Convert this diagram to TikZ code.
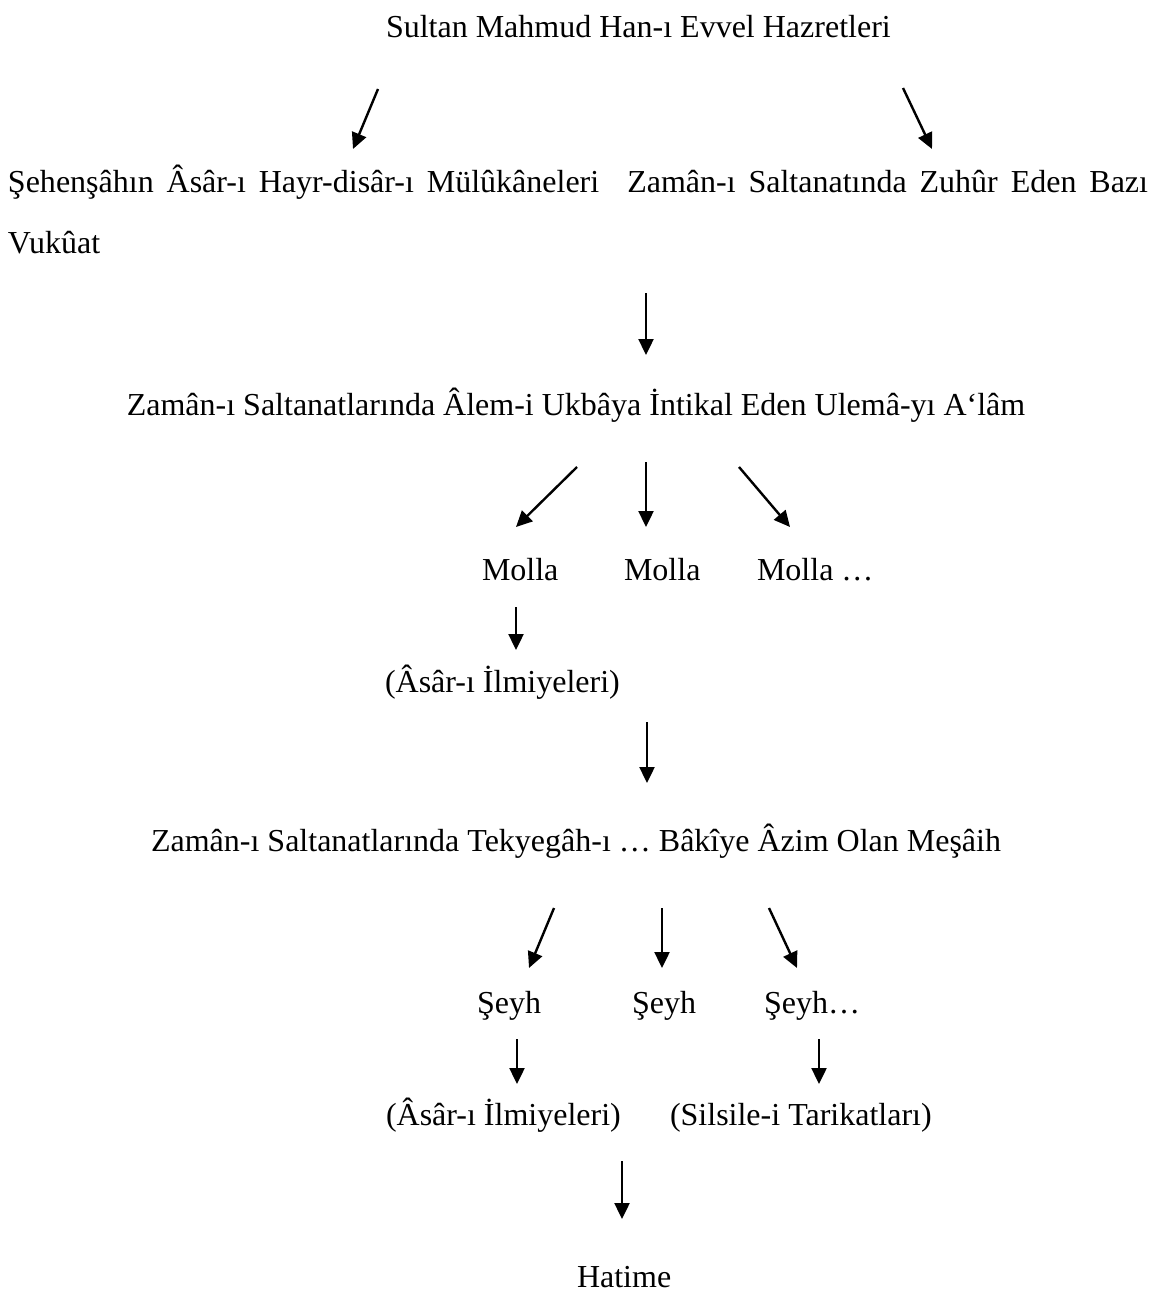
\documentclass[tikz,border=0pt]{standalone}
\usepackage{fontspec}
\setmainfont{Liberation Serif}
\usetikzlibrary{arrows.meta}

\begin{document}
\begin{tikzpicture}[x=1pt,y=-1pt,
  txt/.style={inner sep=0pt,outer sep=0pt,anchor=base west,
    font=\fontsize{32}{38}\selectfont},
  wide/.style={txt,execute at begin node={\spaceskip=12.9pt\relax}},
  arr/.style={line width=2.4pt,-{Triangle[length=16pt,width=15pt]}}]
\useasboundingbox (0,0) rectangle (1157,1297);

% heading and first branching
\node[txt] (sultan) at (386,38) {Sultan Mahmud Han-ı Evvel Hazretleri};
\node[wide] (asar) at (8,193) {Şehenşâhın Âsâr-ı Hayr-disâr-ı Mülûkâneleri};
\node[wide,anchor=base east] (vukuat) at (1148,193) {Zamân-ı Saltanatında Zuhûr Eden Bazı};
\node[txt] (vukuat2) at (8,254) {Vukûat};

\coordinate (s1a) at (378,89);  \coordinate (s1b) at (353,149);
\coordinate (s2a) at (903,88);  \coordinate (s2b) at (932,149);
\draw[arr] (s1a) -- (s1b);
\draw[arr] (s2a) -- (s2b);

% ulema section
\coordinate (u0a) at (646,293); \coordinate (u0b) at (646,355);
\draw[arr] (u0a) -- (u0b);
\node[txt,anchor=base] (ulema) at (576,415) {Zamân-ı Saltanatlarında Âlem-i Ukbâya İntikal Eden Ulemâ-yı A‘lâm};

\coordinate (m1a) at (577,467); \coordinate (m1b) at (516,527);
\coordinate (m2a) at (646,462); \coordinate (m2b) at (646,527);
\coordinate (m3a) at (739,467); \coordinate (m3b) at (790,527);
\draw[arr] (m1a) -- (m1b);
\draw[arr] (m2a) -- (m2b);
\draw[arr] (m3a) -- (m3b);

\node[txt] (molla1) at (482,580) {Molla};
\node[txt] (molla2) at (624,580) {Molla};
\node[txt] (molla3) at (757,580) {Molla …};

\coordinate (i1a) at (516,607); \coordinate (i1b) at (516,650);
\draw[arr] (i1a) -- (i1b);
\node[txt] (ilmi1) at (385,692) {(Âsâr-ı İlmiyeleri)};

% mesaih section
\coordinate (t0a) at (647,722); \coordinate (t0b) at (647,783);
\draw[arr] (t0a) -- (t0b);
\node[txt,anchor=base] (mesaih) at (576,851) {Zamân-ı Saltanatlarında Tekyegâh-ı … Bâkîye Âzim Olan Meşâih};

\coordinate (e1a) at (554,908); \coordinate (e1b) at (529,968);
\coordinate (e2a) at (662,908); \coordinate (e2b) at (662,968);
\coordinate (e3a) at (769,908); \coordinate (e3b) at (797,968);
\draw[arr] (e1a) -- (e1b);
\draw[arr] (e2a) -- (e2b);
\draw[arr] (e3a) -- (e3b);

\node[txt] (seyh1) at (477,1013) {Şeyh};
\node[txt] (seyh2) at (632,1013) {Şeyh};
\node[txt] (seyh3) at (764,1013) {Şeyh…};

\coordinate (k1a) at (517,1039); \coordinate (k1b) at (517,1084);
\coordinate (k2a) at (819,1039); \coordinate (k2b) at (819,1084);
\draw[arr] (k1a) -- (k1b);
\draw[arr] (k2a) -- (k2b);
\node[txt] (ilmi2) at (386,1125) {(Âsâr-ı İlmiyeleri)};
\node[txt] (silsile) at (670,1125) {(Silsile-i Tarikatları)};

% conclusion
\coordinate (h0a) at (622,1161); \coordinate (h0b) at (622,1219);
\draw[arr] (h0a) -- (h0b);
\node[txt] (hatime) at (577,1287) {Hatime};
\end{tikzpicture}
\end{document}
